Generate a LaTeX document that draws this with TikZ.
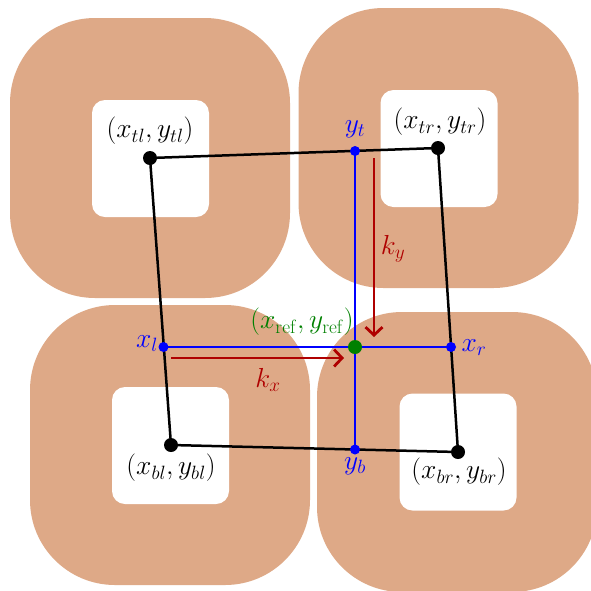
\RequirePackage{fix-cm}
\documentclass[tikz,border=0pt]{standalone}
\usetikzlibrary{arrows.meta}
\definecolor{tanc}{RGB}{222,169,135}
\definecolor{dred}{RGB}{175,0,0}
\definecolor{dgreen}{RGB}{0,128,0}
\begin{document}
\begin{tikzpicture}[x=1pt,y=-1pt,
  blob/.style={fill=tanc, rounded corners=85pt},
  hole/.style={fill=white, rounded corners=13pt},
  pt/.style={circle, fill=black, inner sep=0pt, minimum size=14pt},
  bpt/.style={circle, fill=blue, inner sep=0pt, minimum size=10pt},
  gpt/.style={circle, fill=dgreen, inner sep=0pt, minimum size=14pt},
  quad/.style={draw=black, line width=2.5pt},
  bline/.style={draw=blue, line width=2.8pt},
  rarr/.style={draw=dred, line width=2.8pt, -{Straight Barb[length=8pt,width=17pt,line width=2.8pt]}},
  lab/.style={font=\fontsize{27.5}{31}\selectfont, inner sep=0pt}]
\useasboundingbox (0,0) rectangle (591,590);
\clip (0,0) rectangle (591,590);
% blobs
\foreach \cx/\cy in {150/158, 438.5/148, 170/445, 457/452}{
  \path[blob] (\cx-140,\cy-140) rectangle (\cx+140,\cy+140);
}
\foreach \cx/\cy in {150.5/158.5, 439/148.5, 170.5/445.5, 458/452}{
  \path[hole] (\cx-58.5,\cy-58.5) rectangle (\cx+58.5,\cy+58.5);
}
% corner points
\node[pt] (tl) at (150,158) {};
\node[pt] (tr) at (438,148) {};
\node[pt] (bl) at (171,445) {};
\node[pt] (br) at (458,452) {};
\draw[quad] (tl.center) -- (tr.center) -- (br.center) -- (bl.center) -- cycle;
% blue lines
\coordinate (yt0) at (355,151);
\coordinate (yb0) at (355,449.5);
\coordinate (xl0) at (163.5,347);
\coordinate (xr0) at (451,347);
\draw[bline] (yt0) -- (yb0);
\draw[bline] (xl0) -- (xr0);
\node[bpt] (yt) at (yt0) {};
\node[bpt] (yb) at (yb0) {};
\node[bpt] (xl) at (xl0) {};
\node[bpt] (xr) at (xr0) {};
\node[gpt] (ref) at (355,347) {};
% red arrows
\coordinate (kys) at (374,158);
\coordinate (kye) at (374,337);
\coordinate (kxs) at (171,358);
\coordinate (kxe) at (344,358);
\draw[rarr] (kys) -- (kye);
\draw[rarr] (kxs) -- (kxe);
% labels
\node[lab] (ltl) at (150,131) {$(x_{tl},y_{tl})$};
\node[lab] (ltr) at (440,122) {$(x_{tr},y_{tr})$};
\node[lab] (lbl) at (171,468) {$(x_{bl},y_{bl})$};
\node[lab] (lbr) at (459,472) {$(x_{br},y_{br})$};
\node[lab, text=blue] (lyt) at (355,129) {$y_t$};
\node[lab, text=blue] (lyb) at (355,466) {$y_b$};
\node[lab, text=blue] (lxl) at (147,344) {$x_l$};
\node[lab, text=blue] (lxr) at (474,348) {$x_r$};
\node[lab, text=dred] (lky) at (393,249) {$k_y$};
\node[lab, text=dred] (lkx) at (268,380) {$k_x$};
\node[lab, text=dgreen] (lref) at (302,322) {$(x_{\mathrm{ref}},y_{\mathrm{ref}})$};
\end{tikzpicture}
\end{document}
